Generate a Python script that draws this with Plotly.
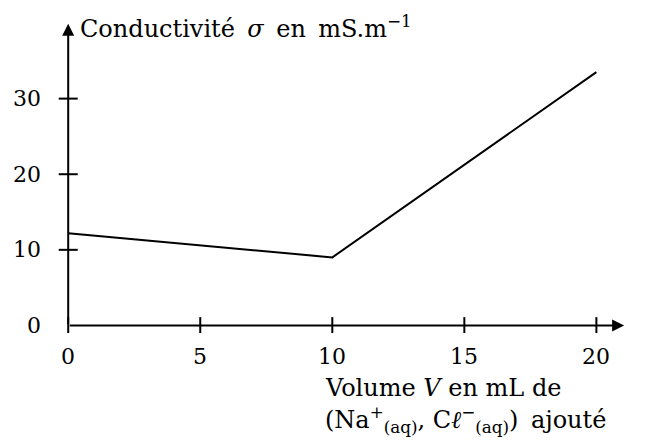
import plotly.graph_objects as go

volume = [0, 10, 20]
conductivite = [12.2, 9.0, 33.5]
x_ticks = [0, 5, 10, 15, 20]
y_ticks = [0, 10, 20, 30]

FONT = "DejaVu Serif"
FS = 22
FS_T = 24
SP = "&#8201; "

fig = go.Figure()
fig.add_trace(go.Scatter(x=volume, y=conductivite, mode="lines",
                         line=dict(color="black", width=2), hoverinfo="skip"))

shapes = []
annotations = []
# axes with arrows
annotations.append(dict(x=21.05, y=0, ax=0, ay=0, xref="x", yref="y", axref="x", ayref="y",
                        showarrow=True, arrowhead=2, arrowsize=1.2, arrowwidth=2,
                        arrowcolor="black", text=""))
annotations.append(dict(x=0, y=39.9, ax=0, ay=0, xref="x", yref="y", axref="x", ayref="y",
                        showarrow=True, arrowhead=2, arrowsize=1.2, arrowwidth=2,
                        arrowcolor="black", text=""))
for v in x_ticks:
    shapes.append(dict(type="line", xref="x", yref="y", x0=v, x1=v, y0=-1.1, y1=1.1,
                       line=dict(color="black", width=2)))
    annotations.append(dict(x=v, y=0, xref="x", yref="y", text=str(v), showarrow=False,
                            xanchor="center", yanchor="middle", yshift=-31,
                            font=dict(family=FONT, size=FS, color="black")))
for v in y_ticks:
    if v != 0:
        shapes.append(dict(type="line", xref="x", yref="y", x0=-0.36, x1=0.36, y0=v, y1=v,
                           line=dict(color="black", width=2)))
    annotations.append(dict(x=0, y=v, xref="x", yref="y", text=str(v), showarrow=False,
                            xanchor="right", yanchor="middle", xshift=-25,
                            font=dict(family=FONT, size=FS, color="black")))

annotations.append(dict(x=0, y=39.9, xref="x", yref="y", xanchor="left", yanchor="middle",
                        xshift=10, yshift=-3, showarrow=False,
                        text="Conductivité" + SP + "<i>σ</i>" + SP + "en" + SP + "mS.m<sup>−1</sup>",
                        font=dict(family=FONT, size=FS_T, color="black")))
annotations.append(dict(x=9.66, y=0, xref="x", yref="y", xanchor="left", yanchor="top",
                        yshift=-47, showarrow=False, align="left",
                        text="Volume <i>V</i> en mL de",
                        font=dict(family=FONT, size=FS_T, color="black")))
annotations.append(dict(x=9.66, y=0, xref="x", yref="y", xanchor="left", yanchor="top",
                        yshift=-75, showarrow=False, align="left",
                        text="(Na<sup>+</sup><sub>(aq)</sub>, C<i>ℓ</i><sup>−</sup><sub>(aq)</sub>)" + SP + "ajouté",
                        font=dict(family=FONT, size=FS_T, color="black")))

fig.update_layout(
    width=653, height=443,
    margin=dict(l=46.8, r=25.4, t=15.45, b=118, pad=0),
    paper_bgcolor="white", plot_bgcolor="white",
    showlegend=False,
    xaxis=dict(range=[-0.5, 21.5], visible=False, fixedrange=True),
    yaxis=dict(range=[-1, 40], visible=False, fixedrange=True),
    shapes=shapes, annotations=annotations,
)
fig.write_html("out.html")
